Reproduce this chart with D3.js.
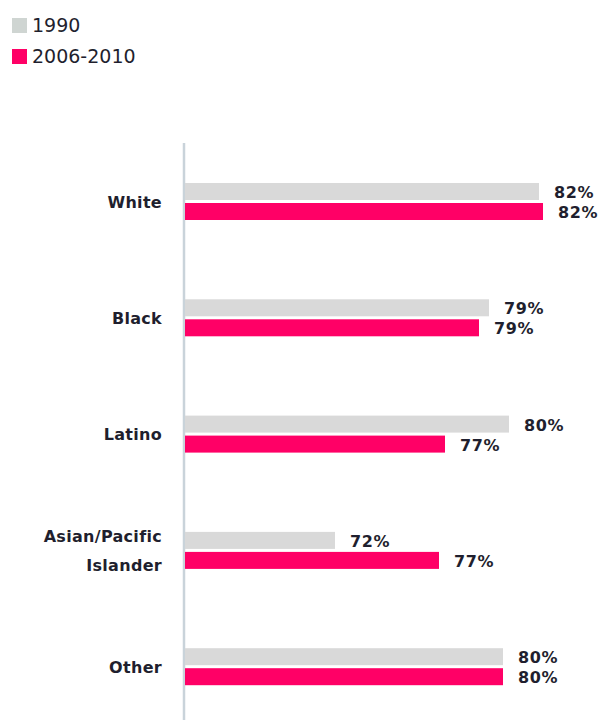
<!DOCTYPE html>
<html>
<head>
<meta charset="utf-8">
<script src="https://cdn.jsdelivr.net/npm/d3@7"></script>
<style>
  body { margin: 0; background: #fff; }
  text { font-family: "DejaVu Sans", sans-serif; fill: #1f1f2e; }
</style>
</head>
<body>
<div id="main-chart"></div>
<script>
const categories = ["White", "Black", "Latino", "Asian/Pacific Islander", "Other"];
const categoryLines = [["White"], ["Black"], ["Latino"], ["Asian/Pacific", "Islander"], ["Other"]];
const seriesNames = ["1990", "2006-2010"];
const values1990 = [81.9, 79.4, 80.4, 71.7, 80.1];
const values2006 = [82.1, 78.9, 77.2, 76.9, 80.1];
const colors = ["#d9d9d9", "#ff0066"];

const width = 601;
const height = 720;
const barHeight = 17;
const labelGap = 15;

const svg = d3
  .select("#main-chart")
  .append("svg")
  .attr("width", width)
  .attr("height", height);

// value axis does not start at zero in the original chart
const x = d3.scaleLinear().domain([64.2, 84.2]).range([185, 585]);

const y = d3
  .scaleBand()
  .domain(categories)
  .range([183, 183 + 5 * 116.3]);

const ySub = d3
  .scaleBand()
  .domain(seriesNames)
  .range([0, 37])
  .paddingInner(0.15);

const rows = categories.map((c, i) => ({
  category: c,
  lines: categoryLines[i],
  bars: [
    { series: seriesNames[0], value: values1990[i] },
    { series: seriesNames[1], value: values2006[i] },
  ],
}));

// axis line
svg
  .append("line")
  .attr("x1", 184)
  .attr("x2", 184)
  .attr("y1", 143)
  .attr("y2", height)
  .attr("stroke", "#c9d3da")
  .attr("stroke-width", 2.5);

const groups = svg
  .selectAll(".group")
  .data(rows)
  .join("g")
  .attr("class", "group")
  .attr("transform", (d) => `translate(0, ${y(d.category)})`);

groups
  .selectAll("rect")
  .data((d) => d.bars)
  .join("rect")
  .attr("x", x.range()[0])
  .attr("y", (d) => ySub(d.series))
  .attr("width", (d) => x(d.value) - x.range()[0])
  .attr("height", barHeight)
  .attr("fill", (d, i) => colors[i]);

groups
  .selectAll(".value")
  .data((d) => d.bars)
  .join("text")
  .attr("class", "value")
  .attr("x", (d) => x(d.value) + labelGap)
  .attr("y", (d) => ySub(d.series) + ySub.bandwidth() / 2 + 2)
  .attr("dominant-baseline", "middle")
  .style("font-size", "16px")
  .style("font-weight", "bold")
  .style("letter-spacing", "0.6px")
  .text((d) => `${d3.format(".0f")(d.value)}%`);

const catLabels = groups
  .append("text")
  .attr("class", "category")
  .attr("x", 162)
  .attr("text-anchor", "end")
  .style("font-size", "16px")
  .style("font-weight", "bold")
  .style("letter-spacing", "0.3px");

catLabels
  .selectAll("tspan")
  .data((d) => d.lines.map((t, i) => ({ t, i, n: d.lines.length })))
  .join("tspan")
  .attr("x", 162)
  .attr("y", (d) => 20 + (d.i - (d.n - 1) / 2) * 29)
  .attr("dominant-baseline", "middle")
  .text((d) => d.t);

// legend
const legend = svg
  .selectAll(".legend")
  .data(seriesNames)
  .join("g")
  .attr("class", "legend")
  .attr("transform", (d, i) => `translate(12, ${18 + i * 31})`);

legend
  .append("rect")
  .attr("width", 15)
  .attr("height", 15)
  .attr("fill", (d, i) => (i === 0 ? "#cfd5d2" : colors[1]));

legend
  .append("text")
  .attr("x", 20)
  .attr("y", 8)
  .attr("dominant-baseline", "middle")
  .style("font-size", "19px")
  .text((d) => d);
</script>
</body>
</html>
